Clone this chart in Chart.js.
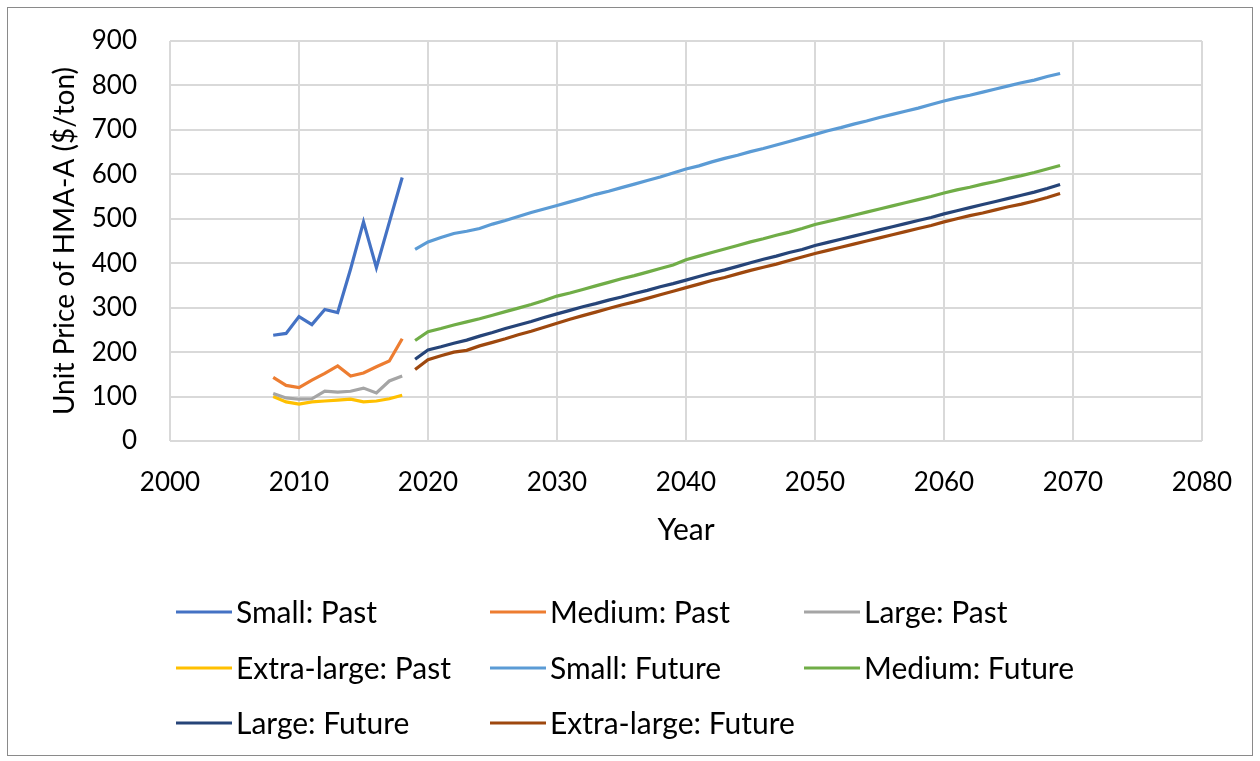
<!DOCTYPE html>
<html>
<head>
<meta charset="utf-8">
<title>Unit Price of HMA-A</title>
<script src="https://cdn.jsdelivr.net/npm/chart.js@4/dist/chart.umd.min.js"></script>
<style>
  html, body { margin: 0; padding: 0; background: #fff; }
  #wrap { position: relative; width: 1260px; height: 761px; }
  #frame { position: absolute; left: 7px; top: 7px; width: 1244px; height: 747px; border: 1px solid #8a8a8a; }
  canvas { position: absolute; left: 0; top: 0; }
</style>
</head>
<body>
<div id="wrap">
  <div id="frame"></div>
  <canvas id="myChart" width="1260" height="761"></canvas>
</div>
<script>
/* data */
const pastYears = [2008, 2009, 2010, 2011, 2012, 2013, 2014, 2015, 2016, 2017, 2018];
const futureYears = [
  2019, 2020, 2021, 2022, 2023, 2024, 2025, 2026, 2027, 2028,
  2029, 2030, 2031, 2032, 2033, 2034, 2035, 2036, 2037, 2038,
  2039, 2040, 2041, 2042, 2043, 2044, 2045, 2046, 2047, 2048,
  2049, 2050, 2051, 2052, 2053, 2054, 2055, 2056, 2057, 2058,
  2059, 2060, 2061, 2062, 2063, 2064, 2065, 2066, 2067, 2068, 2069
];

const smallPast = [238, 242, 280, 262, 296, 289, 387, 493, 390, 492, 593];
const mediumPast = [143, 125, 120, 137, 152, 169, 146, 153, 167, 180, 230];
const largePast = [107, 97, 94, 95, 112, 110, 112, 119, 108, 135, 146];
const xlargePast = [100, 88, 83, 88, 90, 92, 94, 88, 90, 95, 103];

const smallFuture = [
  431, 448, 458, 467, 472, 478, 488, 496, 505, 514,
  522, 530, 538, 546, 555, 562, 570, 578, 586, 594,
  603, 612, 619, 628, 636, 643, 651, 658, 666, 674,
  682, 690, 698, 705, 713, 720, 728, 735, 742, 749,
  757, 765, 772, 778, 785, 792, 799, 806, 812, 820, 827
];
const mediumFuture = [
  226, 246, 253, 261, 268, 275, 283, 291, 299, 307,
  316, 326, 333, 341, 349, 357, 365, 372, 380, 388,
  396, 408, 416, 424, 432, 440, 448, 455, 463, 470,
  478, 487, 494, 501, 508, 515, 522, 529, 536, 543,
  550, 558, 565, 571, 578, 584, 591, 597, 604, 612, 620
];
const largeFuture = [
  184, 205, 212, 220, 227, 236, 244, 253, 261, 269,
  278, 286, 294, 302, 309, 317, 324, 332, 339, 347,
  354, 362, 370, 378, 385, 393, 401, 409, 416, 424,
  431, 440, 447, 454, 461, 468, 475, 482, 489, 496,
  503, 511, 518, 525, 532, 539, 546, 553, 560, 568, 577
];
const xlargeFuture = [
  161, 183, 192, 200, 204, 214, 222, 230, 239, 247,
  256, 265, 274, 282, 290, 298, 306, 313, 321, 329,
  337, 345, 353, 361, 368, 376, 384, 391, 398, 406,
  414, 422, 429, 436, 443, 450, 457, 464, 471, 478,
  485, 493, 500, 507, 513, 520, 527, 533, 540, 548, 557
];

const seriesLabels = [
  "Small: Past", "Medium: Past", "Large: Past",
  "Extra-large: Past", "Small: Future", "Medium: Future",
  "Large: Future", "Extra-large: Future"
];
const seriesColors = [
  "#4472C4", "#ED7D31", "#A5A5A5",
  "#FFC000", "#5B9BD5", "#70AD47",
  "#264478", "#9E480E"
];

const FONT = "Lato, 'Open Sans', sans-serif";

function toPoints(years, values) {
  return years.map((y, i) => ({ x: y, y: values[i] }));
}

const allSeries = [
  toPoints(pastYears, smallPast),
  toPoints(pastYears, mediumPast),
  toPoints(pastYears, largePast),
  toPoints(pastYears, xlargePast),
  toPoints(futureYears, smallFuture),
  toPoints(futureYears, mediumFuture),
  toPoints(futureYears, largeFuture),
  toPoints(futureYears, xlargeFuture)
];

const datasets = allSeries.map((pts, i) => ({
  label: seriesLabels[i],
  data: pts,
  borderColor: seriesColors[i],
  backgroundColor: seriesColors[i],
  borderWidth: 3.2,
  pointRadius: 0,
  tension: 0,
  fill: false
}));

// legend in a 3 column grid like the original
const gridLegend = {
  id: "gridLegend",
  afterDraw(chart) {
    const c = chart.ctx;
    const colX = [176, 490, 804];
    const rowY = [612, 668, 723];
    c.save();
    c.font = "30px " + FONT;
    c.textBaseline = "middle";
    c.textAlign = "left";
    chart.data.datasets.forEach((ds, i) => {
      const x = colX[i % 3];
      const y = rowY[Math.floor(i / 3)];
      c.strokeStyle = ds.borderColor;
      c.lineWidth = 3.2;
      c.beginPath();
      c.moveTo(x, y);
      c.lineTo(x + 56, y);
      c.stroke();
      c.fillStyle = "#000";
      c.fillText(ds.label, x + 60, y + 1);
    });
    c.restore();
  }
};

const ctx1 = document.getElementById("myChart").getContext("2d");

const myChart1 = new Chart(ctx1, {
  type: "line",
  data: { datasets: datasets },
  plugins: [gridLegend],
  options: {
    responsive: false,
    animation: false,
    layout: { padding: { left: 0, right: 58, top: 41, bottom: 0 } },
    plugins: {
      legend: { display: false },
      tooltip: { enabled: false }
    },
    scales: {
      x: {
        type: "linear",
        min: 2000,
        max: 2080,
        afterFit: (scale) => { scale.height = 320; },
        ticks: {
          stepSize: 10,
          padding: 26,
          color: "#000",
          font: { family: FONT, size: 26 },
          callback: (v) => String(v)
        },
        grid: { color: "#d9d9d9", lineWidth: 2, drawTicks: false },
        border: { display: false },
        title: {
          display: true,
          text: "Year",
          color: "#000",
          font: { family: FONT, size: 30 },
          padding: { top: 0, bottom: 213 }
        }
      },
      y: {
        min: 0,
        max: 900,
        afterFit: (scale) => { scale.width = 170; },
        ticks: {
          stepSize: 100,
          padding: 8,
          color: "#000",
          font: { family: FONT, size: 26 }
        },
        grid: {
          color: "#d9d9d9",
          lineWidth: 2,
          drawTicks: true,
          tickLength: 25,
          tickColor: "rgba(0,0,0,0)"
        },
        border: { display: false },
        title: {
          display: true,
          text: "Unit Price of HMA-A ($/ton)",
          color: "#000",
          font: { family: FONT, size: 28 },
          padding: { top: 48, bottom: 0 }
        }
      }
    }
  }
});
</script>
</body>
</html>
